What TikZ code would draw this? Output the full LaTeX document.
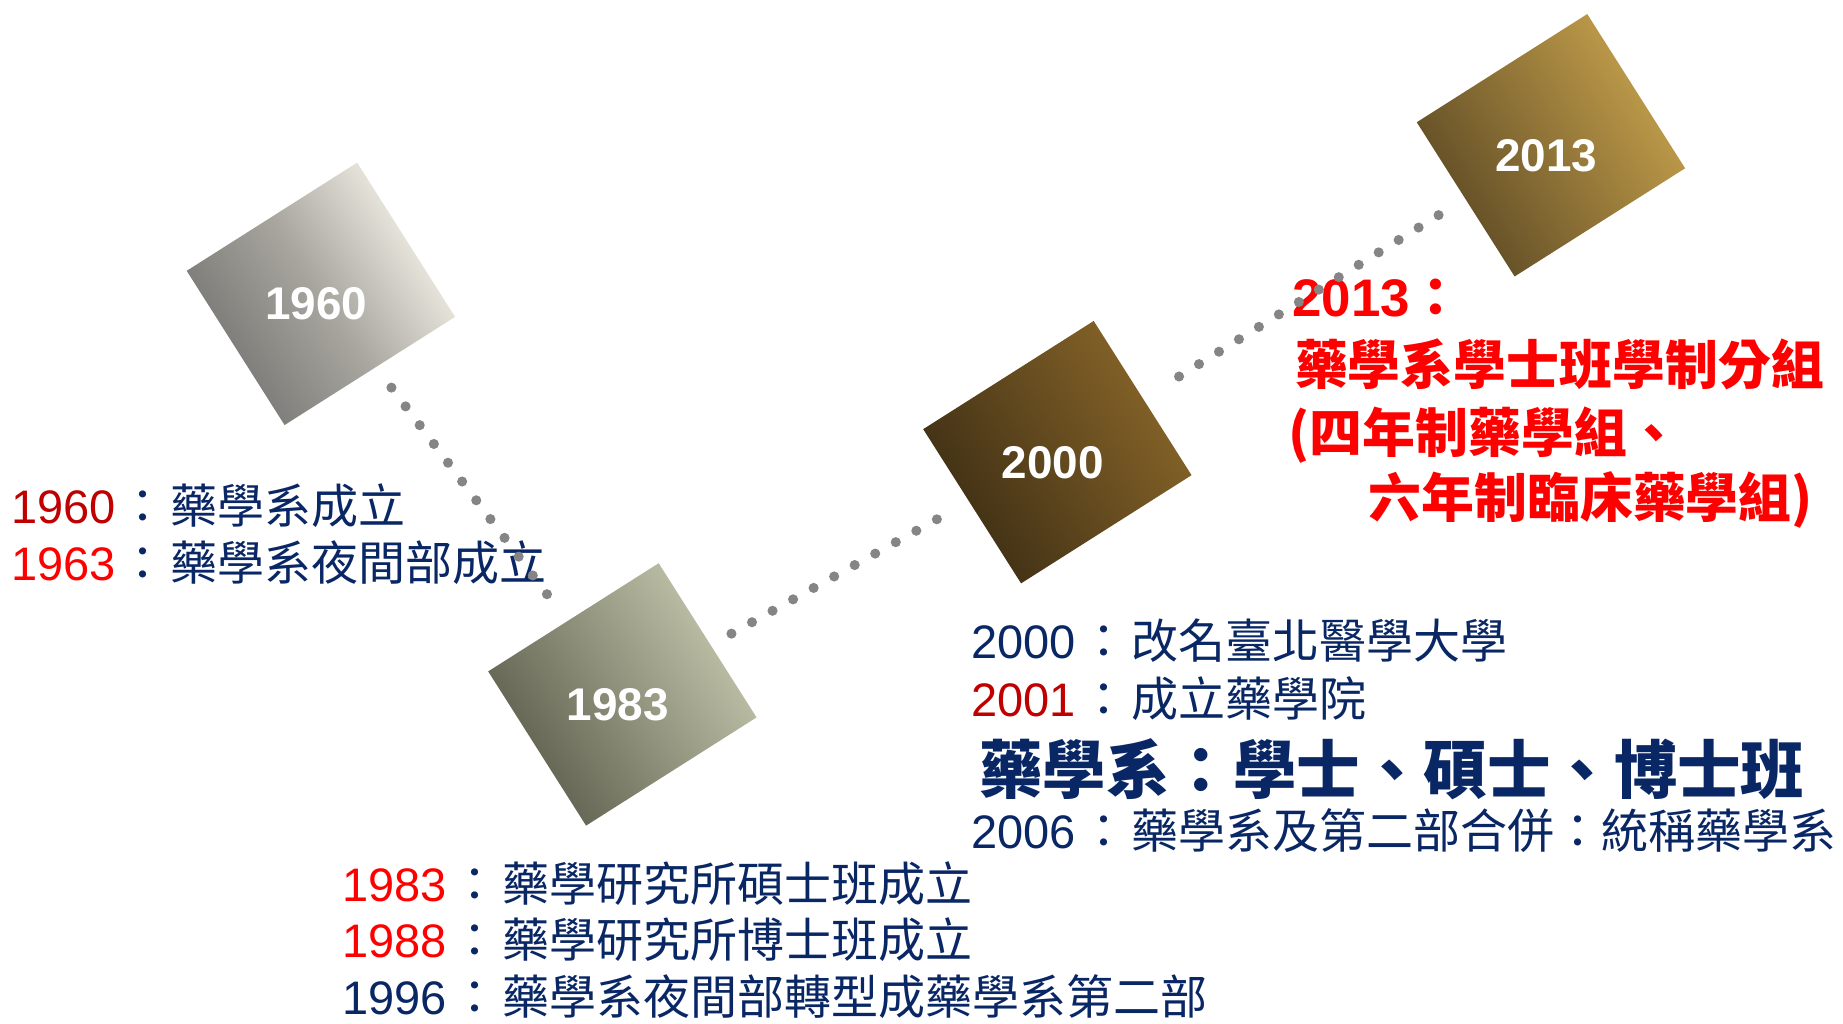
\documentclass[tikz,border=0pt]{standalone}
\usepackage{fontspec}
\setmainfont{Noto Sans CJK TC}
\newfontfamily\arial{Liberation Sans}
\usetikzlibrary{positioning}
\definecolor{navy}{HTML}{0A2765}
\definecolor{dred}{HTML}{C00000}
\definecolor{bred}{HTML}{FF0000}
\definecolor{dotgray}{HTML}{858585}
\definecolor{gray1}{HTML}{747370}
\definecolor{gray2}{HTML}{F8F5EC}
\definecolor{gray3}{HTML}{A8A69F}
\definecolor{sage1}{HTML}{5B5C4B}
\definecolor{sage2}{HTML}{C4C7AD}
\definecolor{brown1}{HTML}{3C2D14}
\definecolor{brown2}{HTML}{896629}
\definecolor{gold1}{HTML}{5C4924}
\definecolor{gold2}{HTML}{C6A14C}
\newcommand{\yr}[2]{\textcolor{#1}{\arial #2}}
\newcommand{\colonsep}{\hspace{1.75pt}：\hspace{1.75pt}}
\tikzset{
  yearbox/.style={rectangle, rotate=32.4, minimum width=85.9pt, minimum height=77.7pt, inner sep=0pt},
  yeartext/.style={text=white, font=\arial\bfseries\fontsize{19.5}{20}\selectfont, xshift=-2pt, yshift=-4.3pt},
  dotline/.style={draw=dotgray, line width=4.3pt, line cap=round, dash pattern=on 0pt off 10pt},
  event/.style={anchor=base west, inner sep=0pt, text=navy, font=\fontsize{20}{24}\selectfont},
  bigevent/.style={event, font=\bfseries\fontsize{27}{30}\selectfont},
  note/.style={anchor=base west, inner sep=0pt, text=bred, font=\bfseries\fontsize{22.5}{26}\selectfont}
}
\begin{document}
\begin{tikzpicture}[x=0.5pt, y=-0.5pt]
	\useasboundingbox (0,0) rectangle (1568,870.4);

	% year boxes
	\node (d1960) [yearbox, left color=gray1, right color=gray2, middle color=gray3, shading angle=122.4] at (273,250) {};
	\node (d1983) [yearbox, left color=sage1, right color=sage2, shading angle=122.4] at (529.5,590.8) {};
	\node (d2000) [yearbox, left color=brown1, right color=brown2, shading angle=122.4] at (899.6,384.7) {};
	\node (d2013) [yearbox, left color=gold1, right color=gold2, shading angle=122.4] at (1319.5,123.6) {};

	\node (l1960) [yeartext] at (d1960) {1960};
	\node (l1983) [yeartext] at (d1983) {1983};
	\node (l2000) [yeartext] at (d2000) {2000};
	\node (l2013) [yeartext] at (d2013) {2013};

	% events
	\node (e1960) [event] at (9,445) {\yr{dred}{1960}\colonsep 藥學系成立};
	\node (e1963) [event, below=24.25pt of e1960.base west, anchor=base west] {\yr{bred}{1963}\colonsep 藥學系夜間部成立};

	\node (e1983) [event] at (291,767) {\yr{bred}{1983}\colonsep 藥學研究所碩士班成立};
	\node (e1988) [event, below=24pt of e1983.base west, anchor=base west] {\yr{bred}{1988}\colonsep 藥學研究所博士班成立};
	\node (e1996) [event, below=24pt of e1988.base west, anchor=base west] {\yr{navy}{1996}\colonsep 藥學系夜間部轉型成藥學系第二部};

	\node (e2000) [event] at (826,560) {\yr{navy}{2000}\colonsep 改名臺北醫學大學};
	\node (e2001) [event, below=25pt of e2000.base west, anchor=base west] {\yr{dred}{2001}\colonsep 成立藥學院};
	\node (degree) [bigevent, below=32.5pt of e2001.base west, anchor=base west, xshift=3.4pt] {藥學系：學士、碩士、博士班};
	\node (e2006) [event, below=23.5pt of degree.base west, anchor=base west, xshift=-3.4pt] {\yr{navy}{2006}\colonsep 藥學系及第二部合併：統稱藥學系};

	\node (n2013) [note] at (1099,269.4) {{\arial 2013}：};
	\node (n2013a) [note, below=28.8pt of n2013.base west, anchor=base west, xshift=1.2pt] {藥學系學士班學制分組};
	\node (n2013b) [note, below=29pt of n2013a.base west, anchor=base west, xshift=-2.7pt] {(四年制藥學組、};
	\node (n2013c) [note, below=27.5pt of n2013b.base west, anchor=base west, xshift=34pt] {六年制臨床藥學組)};

	% dotted links
	\draw [dotline, shorten <=10.75pt, shorten >=11.6pt] (d1960) -- (d1983);
	\draw [dotline, shorten <=9.9pt, shorten >=14.5pt] (d1983) -- (d2000);
	\draw [dotline, shorten <=17.8pt, shorten >=11pt] (d2000) -- (d2013);
\end{tikzpicture}
\end{document}
